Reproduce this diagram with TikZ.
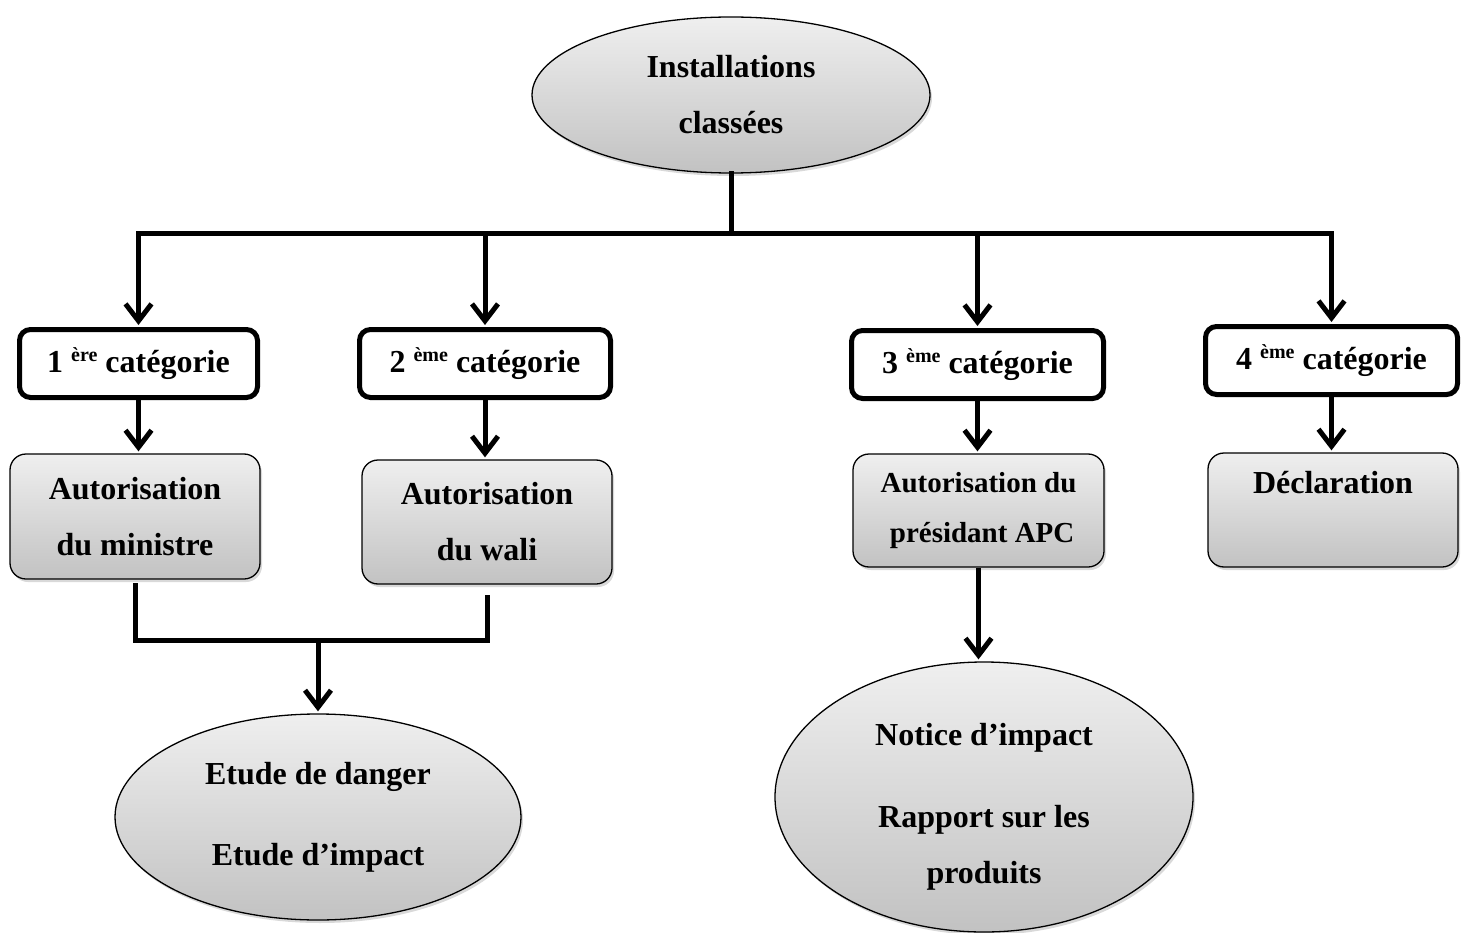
\documentclass[tikz,border=0pt]{standalone}
\usepackage{fontspec}
\setmainfont{Liberation Serif}
\usetikzlibrary{shapes.geometric,arrows.meta,shadows}

\definecolor{shadetop}{HTML}{EFEFEF}
\definecolor{shadebot}{HTML}{C2C2C2}

\newcommand{\ordsup}[1]{\raisebox{11pt}{\fontsize{20}{20}\selectfont #1}}

\tikzset{
  conn/.style={line width=5pt, line cap=rect},
  arr/.style={line width=5pt, -{Straight Barb[length=17pt,width=26pt]}, shorten >=2pt},
  lbl/.style={font=\bfseries\fontsize{32}{56}\selectfont, align=center},
  catbox/.style={lbl, draw, line width=5pt, rounded corners=11pt, fill=white,
    minimum height=68pt, inner sep=0pt,
    drop shadow={shadow xshift=2pt, shadow yshift=-2pt, opacity=0.25}},
  greybox/.style={lbl, draw, line width=1.3pt, rounded corners=16pt,
    top color=shadetop, bottom color=shadebot, inner sep=0pt,
    drop shadow={shadow xshift=2pt, shadow yshift=-3pt, opacity=0.3}},
  greyoval/.style={lbl, ellipse, draw, line width=1.3pt,
    top color=shadetop, bottom color=shadebot, inner sep=0pt,
    drop shadow={shadow xshift=2pt, shadow yshift=-3pt, opacity=0.3}},
}

\begin{document}
\begin{tikzpicture}[x=1pt, y=-1pt]
\useasboundingbox (0,0) rectangle (1469,933);

% root
\node[greyoval, minimum width=398pt, minimum height=156pt] (top) at (731,95)
  {Installations\\classées};

% categories
\node[catbox, minimum width=238pt] (c1) at (138.5,363.5) {1 \ordsup{ère} catégorie};
\node[catbox, minimum width=251pt] (c2) at (485,363.5) {2 \ordsup{ème} catégorie};
\node[catbox, minimum width=252pt] (c3) at (977.5,364.5) {3 \ordsup{ème} catégorie};
\node[catbox, minimum width=252pt] (c4) at (1331.5,360.5) {4 \ordsup{ème} catégorie};

% authorisations
\node[greybox, minimum width=250pt, minimum height=125pt] (g1) at (135,516.5)
  {Autorisation\\du ministre};
\node[greybox, minimum width=250pt, minimum height=124pt] (g2) at (487,522)
  {Autorisation\\du wali};
\node[greybox, minimum width=251pt, minimum height=113pt,
  font=\bfseries\fontsize{29}{50}\selectfont] (g3) at (978.5,510.5)
  {Autorisation du\\\ présidant APC};
\node[greybox, minimum width=250pt, minimum height=114pt] (g4) at (1333,510)
  {Déclaration\\\mbox{}};

% documents
\node[greyoval, minimum width=406pt, minimum height=206pt] (e1) at (318,817)
  {Etude de danger\\[25pt]Etude d’impact};
\node[greyoval, minimum width=418pt, minimum height=270pt] (e2) at (984,797)
  {\rule{0pt}{41pt}Notice d’impact\\[26pt]Rapport sur les\\produits};

% distribution bus
\coordinate (bus) at (731,234);
\draw[conn] (top.south) -- (bus);
\draw[conn] (c1.north |- bus) -- (c4.north |- bus);
\foreach \c in {c1,c2,c3,c4}
  \draw[arr] (\c.north |- bus) -- (\c.north);

% category to authorisation
\foreach \c/\g in {c1/g1,c2/g2,c3/g3,c4/g4}
  \draw[arr] (\c.south) -- (\c.south |- \g.north);

% ministre and wali merge into the studies
\coordinate (m) at (318,640);
\draw[conn] ([yshift=-6pt]g1.south) -- (g1.south |- m) -- (g2.south |- m)
  -- ([yshift=-13pt]g2.south);
\draw[arr] (m) -- (e1.north);

% APC to notice
\draw[arr] (g3.south) -- (g3.south |- e2.north);
\end{tikzpicture}
\end{document}
